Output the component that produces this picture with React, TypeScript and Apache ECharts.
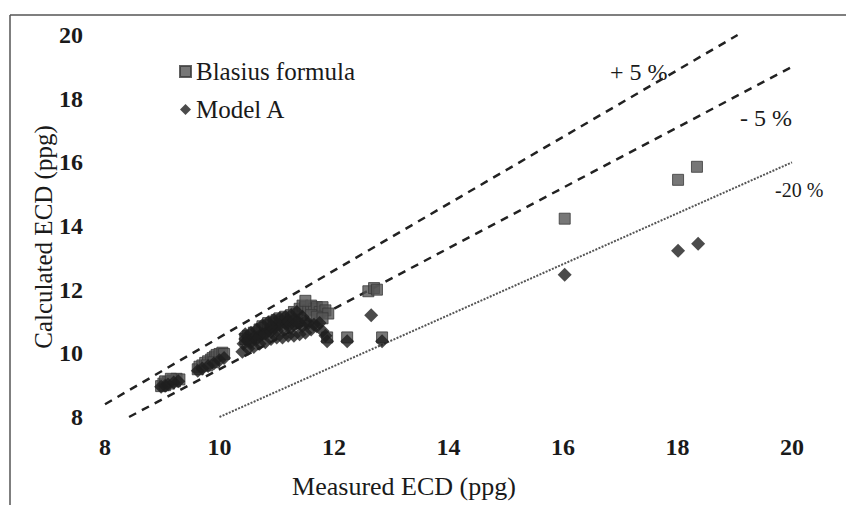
import React, { useEffect, useRef } from "react";
import * as echarts from "echarts";

const FONT = "'Liberation Serif', 'Times New Roman', serif";

const blasius: number[][] = [
  [8.98, 8.97], [9.02, 9.05], [9.05, 9.0], [9.1, 9.1], [9.12, 9.05], [9.18, 9.15],
  [9.22, 9.12], [9.25, 9.2], [9.3, 9.18], [9.05, 9.12], [9.15, 9.2],
  [9.62, 9.5], [9.65, 9.58], [9.7, 9.62], [9.75, 9.7], [9.8, 9.75], [9.85, 9.8],
  [9.88, 9.85], [9.92, 9.9], [9.95, 9.95], [10.0, 9.98], [10.05, 10.02], [10.08, 9.98],
  [9.9, 9.72], [9.78, 9.62],
  [10.45, 10.45], [10.5, 10.55], [10.55, 10.5], [10.6, 10.65], [10.65, 10.6], [10.7, 10.75],
  [10.75, 10.85], [10.8, 10.8], [10.85, 10.95], [10.9, 10.9], [10.95, 11.0], [11.0, 11.05],
  [11.05, 11.1], [11.1, 11.0], [11.15, 11.15], [11.2, 11.1], [11.25, 11.2], [11.3, 11.3],
  [11.35, 11.25], [11.4, 11.4], [11.45, 11.5], [11.5, 11.45], [11.55, 11.35], [11.6, 11.5],
  [11.65, 11.4], [11.7, 11.45], [11.75, 11.3], [11.8, 11.45], [11.85, 11.35], [11.9, 11.25],
  [11.6, 11.2], [11.7, 11.15], [11.8, 11.1], [11.5, 11.65],
  [11.88, 10.5], [12.23, 10.5], [12.84, 10.5],
  [12.6, 11.95], [12.7, 12.05], [12.75, 12.0],
  [16.03, 14.23], [18.01, 15.45], [18.34, 15.86],
];

const modelA: number[][] = [
  [8.98, 8.95], [9.05, 8.98], [9.1, 9.02], [9.2, 9.08], [9.28, 9.12],
  [9.62, 9.45], [9.7, 9.52], [9.8, 9.6], [9.9, 9.68], [10.0, 9.78], [10.08, 9.85],
  [10.4, 10.05], [10.42, 10.3], [10.45, 10.45], [10.5, 10.15], [10.55, 10.35], [10.6, 10.2],
  [10.65, 10.45], [10.7, 10.3], [10.75, 10.6], [10.8, 10.35], [10.85, 10.7], [10.9, 10.45],
  [10.95, 10.8], [11.0, 10.5], [11.05, 10.9], [11.1, 10.5], [11.15, 10.95], [11.2, 10.55],
  [11.25, 10.8], [11.3, 10.55], [11.35, 11.0], [11.4, 10.6], [11.45, 10.85], [11.5, 10.65],
  [11.55, 10.95], [11.6, 10.75], [11.65, 10.9], [11.7, 10.85], [11.75, 10.95], [11.8, 10.7],
  [11.85, 10.55],
  [10.45, 10.6], [10.55, 10.65], [10.65, 10.75], [10.75, 10.88], [10.85, 10.98], [10.95, 11.05],
  [11.05, 11.1], [11.15, 11.15], [11.25, 11.2], [11.35, 11.3],
  [10.5, 10.4], [10.6, 10.5], [10.7, 10.55], [10.8, 10.62], [10.9, 10.68], [11.0, 10.72],
  [11.1, 10.78], [11.2, 10.85], [11.3, 10.9], [11.4, 10.95], [11.5, 11.0], [11.45, 11.15],
  [11.0, 10.9], [10.9, 10.85], [11.2, 11.0], [11.3, 11.05],
  [11.88, 10.38], [12.23, 10.38], [12.84, 10.38],
  [12.65, 11.2],
  [16.03, 12.47], [18.01, 13.22], [18.36, 13.44],
];

const plus5Line: number[][] = [[8, 8.4], [19.05, 20]];
const minus5Line: number[][] = [[8.42, 8], [20, 19]];
const minus20Line: number[][] = [[10, 8], [20, 16]];

const lineLabels = [
  { text: "+ 5 %", x: 610, y: 72, size: 24 },
  { text: "- 5 %", x: 740, y: 118, size: 24 },
  { text: "-20 %", x: 775, y: 190, size: 20 },
];

export default function App() {
  const ref = useRef<HTMLDivElement>(null);
  useEffect(() => {
    if (!ref.current) return;
    const chart = echarts.init(ref.current, null, { renderer: "svg" });
    chart.setOption({
      animation: false,
      backgroundColor: "#ffffff",
      textStyle: { fontFamily: FONT },
      grid: { left: 105, right: 54, top: 35, bottom: 88, containLabel: false },
      legend: {
        left: 174,
        top: 54,
        orient: "vertical",
        itemWidth: 11,
        itemHeight: 11,
        itemGap: 13,
        data: [
          { name: "Blasius formula", icon: "rect" },
          { name: "Model A", icon: "diamond" },
        ],
        textStyle: { fontFamily: FONT, fontSize: 25, color: "#1a1a1a", padding: [0, 0, 0, 0] },
      },
      xAxis: {
        type: "value",
        min: 8,
        max: 20,
        interval: 2,
        axisLine: { show: false },
        axisTick: { show: false },
        splitLine: { show: false },
        axisLabel: { margin: 18, fontFamily: FONT, fontSize: 24, fontWeight: "bold", color: "#1a1a1a" },
      },
      yAxis: {
        type: "value",
        min: 8,
        max: 20,
        interval: 2,
        axisLine: { show: false },
        axisTick: { show: false },
        splitLine: { show: false },
        axisLabel: { margin: 22, fontFamily: FONT, fontSize: 24, fontWeight: "bold", color: "#1a1a1a" },
      },
      series: [
        {
          name: "+5%",
          type: "line",
          data: plus5Line,
          symbol: "none",
          lineStyle: { color: "#222222", width: 2.5, type: [8, 6.5] },
          z: 1,
        },
        {
          name: "-5%",
          type: "line",
          data: minus5Line,
          symbol: "none",
          lineStyle: { color: "#222222", width: 2.5, type: [8, 6.5] },
          z: 1,
        },
        {
          name: "-20%",
          type: "line",
          data: minus20Line,
          symbol: "none",
          lineStyle: { color: "#555555", width: 2, type: [2, 1.4] },
          z: 1,
        },
        {
          name: "Blasius formula",
          type: "scatter",
          data: blasius,
          symbol: "rect",
          symbolSize: 11,
          itemStyle: { color: "#555555", borderColor: "#3a3a3a", borderWidth: 1 },
          z: 2,
        },
        {
          name: "Model A",
          type: "scatter",
          data: modelA,
          symbol: "diamond",
          symbolSize: 14,
          itemStyle: { color: "#1e1e1e" },
          z: 3,
        },
      ],
      graphic: [
        { type: "line", shape: { x1: 10, y1: 15, x2: 846, y2: 15 }, style: { stroke: "#555", lineWidth: 1.5 } },
        { type: "line", shape: { x1: 10, y1: 15, x2: 10, y2: 505 }, style: { stroke: "#555", lineWidth: 1.5 } },
        {
          type: "text",
          x: 404,
          y: 486,
          style: { text: "Measured ECD (ppg)", font: `26px ${FONT}`, fill: "#1a1a1a", align: "center", verticalAlign: "middle" },
        },
        {
          type: "text",
          x: 43,
          y: 237,
          rotation: Math.PI / 2,
          style: { text: "Calculated ECD (ppg)", font: `25px ${FONT}`, fill: "#1a1a1a", align: "center", verticalAlign: "middle" },
        },
        ...lineLabels.map((l) => ({
          type: "text",
          x: l.x,
          y: l.y,
          style: { text: l.text, font: `${l.size}px ${FONT}`, fill: "#1a1a1a", align: "left", verticalAlign: "middle" },
        })),
      ],
    });
    return () => chart.dispose();
  }, []);
  return <div ref={ref} style={{ width: 846, height: 505, position: "absolute", left: 0, top: 0 }} />;
}
